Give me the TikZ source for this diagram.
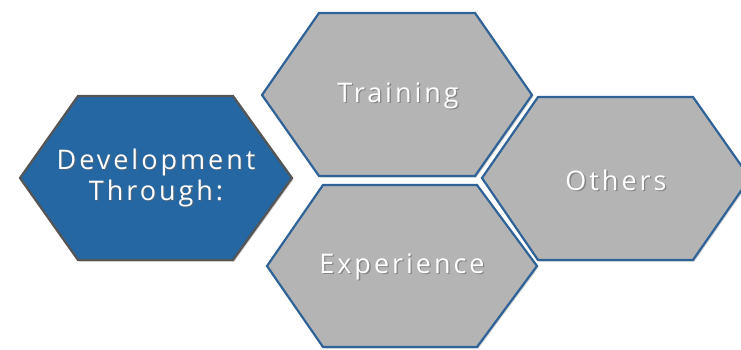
\documentclass[tikz,border=0pt]{standalone}
\usepackage{fontspec}
\setmainfont{Open Sans}
\usetikzlibrary{shadows}
\definecolor{hexblue}{HTML}{2467A3}
\definecolor{hexgray}{HTML}{B4B4B4}
\definecolor{hexedge}{HTML}{2F6398}
\definecolor{darkedge}{HTML}{555555}
\tikzset{
  hexfill/.style={fill=hexgray, draw=hexedge, line width=2.2pt, line join=miter,
    drop shadow={opacity=0.35, shadow xshift=1.5pt, shadow yshift=-1.5pt}},
  bluefill/.style={fill=hexblue, draw=darkedge, line width=2.2pt, line join=miter,
    drop shadow={opacity=0.35, shadow xshift=1.5pt, shadow yshift=-1.5pt}},
  hextext/.style={text=white, font=\fontsize{27}{31}\selectfont\addfontfeatures{LetterSpace=11}, align=center, inner sep=0pt},
  shadowtext/.style={hextext, text=black!60, opacity=0.6}
}
\begin{document}
\begin{tikzpicture}[x=1pt,y=-1pt]
\useasboundingbox (0,0) rectangle (741,349);
\begin{scope}
\clip (0,0) rectangle (741,349);
\path[bluefill] (20,178) -- (78,96) -- (233,96) -- (292,178) -- (233,260) -- (78,260) -- cycle;
\path[hexfill] (262,95) -- (319,13) -- (475,13) -- (532,95) -- (475,176) -- (319,176) -- cycle;
\path[hexfill] (482,178) -- (538,97) -- (693,97) -- (750,178) -- (693,260) -- (538,260) -- cycle;
\path[hexfill] (267,266) -- (323,185) -- (477,185) -- (537,266) -- (477,347) -- (323,347) -- cycle;
\end{scope}
\node[shadowtext] (devs) at (157.3,179.3) {Development\\Through:};
\node[hextext] (dev) at (156,178) {Development\\Through:};
\node[shadowtext] (trs) at (399.3,97.3) {Training};
\node[hextext] (tr) at (398,96) {Training};
\node[shadowtext] (ots) at (617.3,181.3) {Others};
\node[hextext] (ot) at (616,180) {Others};
\node[shadowtext] (exs) at (403.3,268.3) {Experience};
\node[hextext] (ex) at (402,267) {Experience};
\end{tikzpicture}
\end{document}
